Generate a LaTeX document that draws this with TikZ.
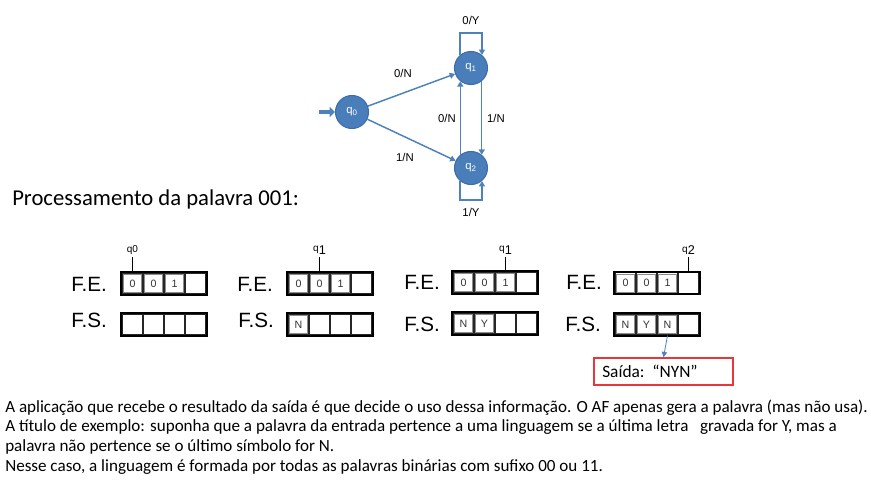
\documentclass[tikz,border=0pt]{standalone}
\usepackage{fontspec}
\setmainfont{Carlito}
\newfontfamily\arialf{Liberation Sans}
\usetikzlibrary{arrows.meta,calc}
\definecolor{stfill}{HTML}{4A7EBB}
\definecolor{stline}{HTML}{3D6DA6}
\definecolor{edgec}{HTML}{4F81BD}
\definecolor{redbox}{HTML}{E8363A}
\newcommand\qsub[1]{q\raisebox{-1.8pt}{\fontsize{9.5}{9.5}\selectfont #1}}
\tikzset{
 state/.style={circle, fill=stfill, draw=stline, line width=0.8pt, minimum size=24.75pt, inner sep=0pt, text=white, font=\arialf\fontsize{8.5}{8.5}\selectfont},
 edge/.style={draw=edgec, line width=1.1pt, -{Triangle[length=4pt,width=4.5pt]}},
 elabel/.style={font=\arialf\fontsize{8.5}{9}\selectfont, inner sep=0pt},
 cell/.style={draw=black!85, line width=0.9pt, minimum width=15.75pt, minimum height=15.75pt, inner sep=0pt},
 tapeframe/.style={draw, line width=1.6pt},
 icell/.style={draw=black!45, line width=0.4pt, minimum width=13.2pt, minimum height=13.2pt, inner sep=0pt, font=\arialf\fontsize{8}{8}\selectfont, text=black!80},
 tlabel/.style={font=\arialf\fontsize{15.5}{16}\selectfont, anchor=base west, inner sep=0pt},
 plabel/.style={font=\arialf\fontsize{7.5}{8}\selectfont, inner sep=1pt},
 ptr/.style={line width=1.3pt, shorten <=1pt},
 bodyline/.style={anchor=base west, inner sep=0pt, font=\fontsize{12.8}{15}\selectfont},
}
\begin{document}
\begin{tikzpicture}[x=0.75pt,y=-0.75pt]
\useasboundingbox (0,0) rectangle (871,484);
\fill[white] (0,0) rectangle (871,484);

% automaton
\node[state] (q0) at (352,112) {q\textsubscript{0}};
\node[state] (q1) at (471,68) {q\textsubscript{1}};
\node[state] (q2) at (471,168) {q\textsubscript{2}};
\coordinate (in) at (319,112);
\draw[draw=edgec, line width=2.6pt, -{Triangle[length=4pt,width=7.5pt]}] (in) -- (q0.west);
\draw[edge] (q0) -- (q1);
\draw[edge] (q0) -- (q2);
\draw[edge] (q1.130) -- ++(0,-22) -| (q1.50);
\draw[edge] (q2.230) -- ++(0,19) -| (q2.310);
\draw[edge] (q2.129) -- (q1.231);
\draw[edge] (q1.309) -- (q2.51);
\node[elabel] (l01) at (403,73) {0/N};
\node[elabel] (l02) at (405,157) {1/N};
\node[elabel] (l1y) at (471,20) {0/Y};
\node[elabel] (l2y) at (471,212) {1/Y};
\node[elabel] (l21) at (447,118) {0/N};
\node[elabel] (l12) at (496,118) {1/N};

% title
\node[anchor=base west, inner sep=0pt, font=\fontsize{17}{19}\selectfont] (title) at (12,206) {Processamento da palavra 001:};

% group 1
\node[tlabel] (fe1) at (71,292) {F.E.};
\node[tlabel] (fs1) at (71,328) {F.S.};
\foreach \i in {1,...,4} \node[cell] (fe1c\i) at ({122+21*\i-10.5},283.5) {};
\foreach \i in {1,...,4} \node[cell] (fs1c\i) at ({122+21*\i-10.5},324.5) {};
\draw[tapeframe] (fe1c1.north west) rectangle (fe1c4.south east);
\draw[tapeframe] (fs1c1.north west) rectangle (fs1c4.south east);
\foreach \c/\i in {0/1,0/2,1/3} \node[icell] (fe1d\i) at (fe1c\i) {\c};
\node[plabel] (p1) at (132.5,250) {q0};
\draw[ptr] (p1.south) -- (fe1c1.north);

% group 2
\node[tlabel] (fe2) at (237,292) {F.E.};
\node[tlabel] (fs2) at (238,328) {F.S.};
\foreach \i in {1,...,4} \node[cell] (fe2c\i) at ({288+21*\i-10.5},283.5) {};
\foreach \i in {1,...,4} \node[cell] (fs2c\i) at ({288+21*\i-10.5},324.5) {};
\draw[tapeframe] (fe2c1.north west) rectangle (fe2c4.south east);
\draw[tapeframe] (fs2c1.north west) rectangle (fs2c4.south east);
\foreach \c/\i in {0/1,0/2,1/3} \node[icell] (fe2d\i) at (fe2c\i) {\c};
\foreach \c/\i in {N/1} \node[icell] (fs2d\i) at (fs2c\i) {\c};
\node[plabel] (p2) at (319.5,250) {\qsub{1}};
\draw[ptr] (p2.south) -- (fe2c2.north);

% group 3
\node[tlabel] (fe3) at (404,290) {F.E.};
\node[tlabel] (fs3) at (404,332) {F.S.};
\foreach \i in {1,...,4} \node[cell] (fe3c\i) at ({453+21*\i-10.5},282.5) {};
\foreach \i in {1,...,4} \node[cell] (fs3c\i) at ({453+21*\i-10.5},323.5) {};
\draw[tapeframe] (fe3c1.north west) rectangle (fe3c4.south east);
\draw[tapeframe] (fs3c1.north west) rectangle (fs3c4.south east);
\foreach \c/\i in {0/1,0/2,1/3} \node[icell] (fe3d\i) at (fe3c\i) {\c};
\foreach \c/\i in {N/1,Y/2} \node[icell] (fs3d\i) at (fs3c\i) {\c};
\node[plabel] (p3) at (505.5,250) {\qsub{1}};
\draw[ptr] (p3.south) -- (fe3c3.north);

% group 4
\node[tlabel] (fe4) at (566,290) {F.E.};
\node[tlabel] (fs4) at (565,332) {F.S.};
\foreach \i in {1,...,4} \node[cell] (fe4c\i) at ({615+21*\i-10.5},283) {};
\foreach \i in {1,...,4} \node[cell] (fs4c\i) at ({615+21*\i-10.5},324.5) {};
\draw[tapeframe] (fe4c1.north west) rectangle (fe4c4.south east);
\draw[tapeframe] (fs4c1.north west) rectangle (fs4c4.south east);
\foreach \c/\i in {0/1,0/2,1/3} \node[icell] (fe4d\i) at (fe4c\i) {\c};
\foreach \c/\i in {N/1,Y/2,N/3} \node[icell] (fs4d\i) at (fs4c\i) {\c};
\node[plabel] (p4) at (688.5,250) {\qsub{2}};
\draw[ptr] (p4.south) -- (fe4c4.north);

% output box
\node[draw=redbox, line width=1.1pt, minimum width=104.25pt, minimum height=20.25pt, inner sep=0pt] (out) at (663.5,371.5) {};
\node[anchor=west, inner sep=0pt, font=\fontsize{13}{15}\selectfont] (outtxt) at (602,371.5) {Saída:\ \ “NYN”};
\draw[draw=edgec, line width=0.6pt, -{Triangle[length=4pt,width=4pt]}] (fs4c3.south) -- (out.north);

% body text
\node[bodyline] (b1) at (5,412) {A aplicação que recebe o resultado da saída é que decide o uso dessa informação. O AF apenas gera a palavra (mas não usa).};
\node[bodyline] (b2) at (5,431.7) {A título de exemplo: suponha que a palavra da entrada pertence a uma linguagem se a última letra\ \ \ gravada for Y, mas a};
\node[bodyline] (b3) at (5,451.4) {palavra não pertence se o último símbolo for N.};
\node[bodyline] (b4) at (5,471) {Nesse caso, a linguagem é formada por todas as palavras binárias com sufixo 00 ou 11.};
\end{tikzpicture}
\end{document}
